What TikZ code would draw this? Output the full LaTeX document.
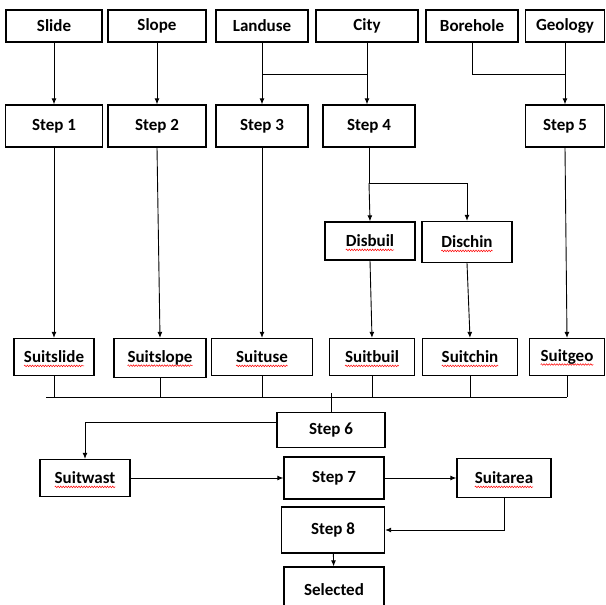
\documentclass[tikz,border=0pt]{standalone}
\usepackage{fontspec}
\setmainfont{Carlito}
\usetikzlibrary{arrows.meta,decorations.pathmorphing}
\newdimen\spellw
\newdimen\spelly

\begin{document}
\begin{tikzpicture}[x=1pt,y=-1pt,
  box/.style={draw,line width=1.3pt,inner sep=0pt,
    font=\bfseries\fontsize{17}{20}\selectfont},
  spell/.style={box,path picture={
    \spellw=\wd\pgfnodeparttextbox
    \spelly=\dimexpr(\ht\pgfnodeparttextbox-\dp\pgfnodeparttextbox)/2+3pt\relax
    \draw[red,line width=.5pt,decorate,
      decoration={snake,amplitude=.8pt,segment length=2.6pt}]
      ([xshift=-.5\spellw,yshift=-\spelly]path picture bounding box.center)
      -- ++(\spellw,0);}},
  line/.style={draw,line width=.9pt},
  arr/.style={line,-{Latex[length=6pt,width=5pt]}}
]
\useasboundingbox (0,0) rectangle (605,605);
% input layers
\node[box,minimum width=96pt,minimum height=32pt] (slide) at (54,26) {Slide};
\node[box,minimum width=98pt,minimum height=32pt] (slope) at (157,26) {Slope};
\node[box,minimum width=92pt,minimum height=32pt] (landuse) at (262,26) {Landuse};
\node[box,minimum width=102pt,minimum height=32pt] (city) at (367,26) {City};
\node[box,minimum width=92pt,minimum height=32pt] (borehole) at (472,26) {Borehole};
\node[box,minimum width=79pt,minimum height=32pt] (geology) at (565,26) {Geology};
% steps
\node[box,minimum width=97pt,minimum height=42pt] (step1) at (54,126) {Step 1};
\node[box,minimum width=98pt,minimum height=42pt] (step2) at (157,126) {Step 2};
\node[box,minimum width=92pt,minimum height=42pt] (step3) at (262,126) {Step 3};
\node[box,minimum width=92pt,minimum height=42pt] (step4) at (369,126) {Step 4};
\node[box,minimum width=79pt,minimum height=42pt] (step5) at (565,126) {Step 5};
\node[spell,minimum width=90pt,minimum height=38pt] (disbuil) at (370,241) {Disbuil};
\node[spell,minimum width=90pt,minimum height=41pt] (dischin) at (467,242) {Dischin};
% suitability layers
\node[spell,minimum width=80pt,minimum height=37pt] (suitslide) at (54,357) {Suitslide};
\node[spell,minimum width=92pt,minimum height=39pt] (suitslope) at (160,358) {Suitslope};
\node[spell,minimum width=101pt,minimum height=37pt] (suituse) at (262,357) {Suituse};
\node[spell,minimum width=85pt,minimum height=37pt] (suitbuil) at (372,357) {Suitbuil};
\node[spell,minimum width=95pt,minimum height=37pt] (suitchin) at (470,357) {Suitchin};
\node[spell,minimum width=75pt,minimum height=37pt] (suitgeo) at (567,357) {Suitgeo};
% final steps
\node[box,minimum width=108pt,minimum height=35pt] (step6) at (331,430) {Step 6};
\node[spell,minimum width=90pt,minimum height=37pt] (suitwast) at (85,478) {Suitwast};
\node[box,minimum width=100pt,minimum height=42pt] (step7) at (334,478) {Step 7};
\node[spell,minimum width=94pt,minimum height=39pt] (suitarea) at (504,478) {Suitarea};
\node[box,minimum width=103pt,minimum height=46pt] (step8) at (333,530) {Step 8};
\node[box,minimum width=100pt,minimum height=46pt] (selected) at (334,590) {Selected};
\coordinate (ljoin) at (262,74);
\coordinate (bjoin) at (565,74);
\coordinate (fork) at (369,183);
\coordinate (busL) at (46,397);
\coordinate (busR) at (567,397);
\coordinate (busmid) at (331,393);
\draw[arr] (slide) -- (step1);
\draw[arr] (slope) -- (step2);
\draw[arr] (landuse) -- (step3);
\draw[arr] (city.south) -- (city.south |- step4.north);
\draw[line] (ljoin) -- (ljoin -| city);
\draw[line] (borehole.south) |- (bjoin);
\draw[arr] (geology) -- (step5);
\draw[arr] (step1) -- (suitslide);
\draw[arr] (step2.south) -- (suitslope.north);
\draw[arr] (step3) -- (suituse);
\draw[line] (step4.south) -- (fork);
\draw[arr] (fork) -- (disbuil.north);
\draw[arr] (fork) -| (dischin.north);
\draw[arr] (disbuil.south) -- (suitbuil.north);
\draw[arr] (dischin.south) -- (suitchin.north);
\draw[arr] (step5.south) -- (suitgeo.north);
\foreach \s in {suitslide,suitslope,suituse,suitbuil,suitchin,suitgeo}
  \draw[line] (\s.south) -- (\s.south |- busL);
\draw[line] (busL) -- (busR);
\draw[line] (busmid) -- (step6.north);
\draw[arr] ([yshift=8pt]step6.west) -| (suitwast.north);
\draw[arr] (suitwast.east) -- (suitwast.east -| step7.west);
\draw[arr] (step7.east) -- (step7.east -| suitarea.west);
\draw[arr] (suitarea.south) |- (step8.east);
\draw[arr] (step8) -- (selected);
\end{tikzpicture}
\end{document}
